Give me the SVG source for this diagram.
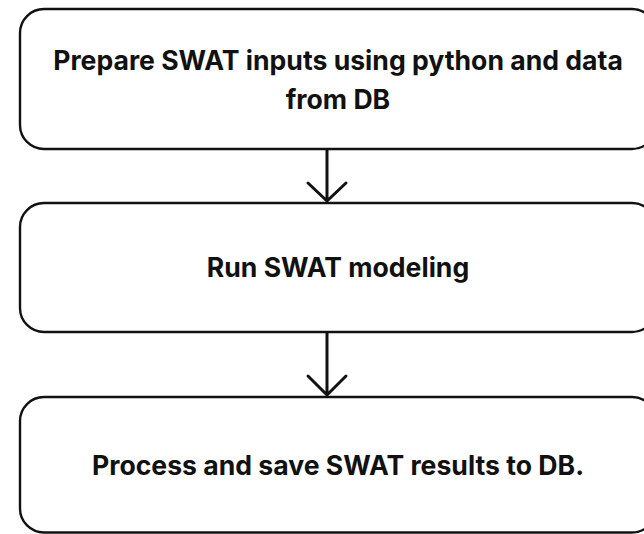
<svg xmlns="http://www.w3.org/2000/svg" width="644" height="534" viewBox="0 0 644 534">
<style>
.box{fill:#fff;stroke:#111;stroke-width:2.4}
.lbl{font-family:Inter,"Liberation Sans",sans-serif;font-weight:700;font-size:26.6px;fill:#111;text-anchor:middle}
.conn{fill:none;stroke:#111;stroke-width:3;stroke-linecap:round;stroke-linejoin:round}
</style>
<rect width="644" height="534" fill="#fff"/>
<g id="connectors">
<path class="conn" d="M327 149 V201 M308 183 L327 201 L346 183"/>
<path class="conn" d="M327 332 V395 M308 376 L327 395 L346 376"/>
</g>
<g id="node1">
<rect class="box" x="20" y="9" width="636" height="140" rx="24"/>
<text class="lbl" x="338" y="69.5">Prepare SWAT inputs using python and data</text>
<text class="lbl" x="338" y="108.5">from DB</text>
</g>
<g id="node2">
<rect class="box" x="20" y="203" width="636" height="129" rx="24"/>
<text class="lbl" x="338" y="277">Run SWAT modeling</text>
</g>
<g id="node3">
<rect class="box" x="20" y="397" width="636" height="135.5" rx="24"/>
<text class="lbl" x="338" y="475">Process and save SWAT results to DB.</text>
</g>
</svg>
